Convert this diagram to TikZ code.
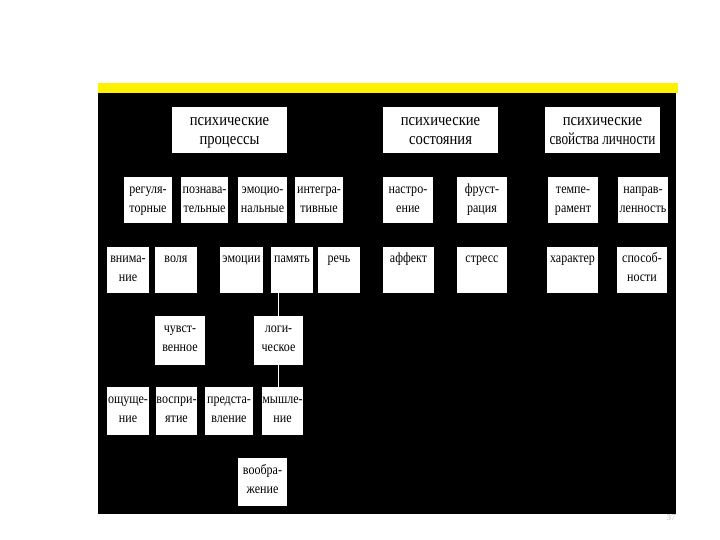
\documentclass[tikz,border=0pt]{standalone}
\usepackage{fontspec}
\setmainfont{Liberation Serif}
\newfontfamily\condfont[FakeStretch=0.86]{Liberation Serif}
\newfontfamily\tightfont[FakeStretch=0.78]{Liberation Serif}
\usetikzlibrary{fit}
\tikzset{
  panel/.style={fill=white, draw=none, inner sep=0pt},
  lab/.style={anchor=north, inner sep=0pt, align=center, text=black,
              font=\condfont\fontsize{14}{19.5}\selectfont},
  toplab/.style={anchor=north, inner sep=0pt, align=center, text=black,
              font=\condfont\fontsize{17}{19}\selectfont},
  link/.style={draw=white, line width=1.2pt}
}
\newcommand\bx[7]{%
  \node[panel, fit={(#2,#3) (#4,#5)}] (#1) {};
  \node[lab, yshift=-#6pt] (#1t) at (#1.north) {\rule{0pt}{10pt}#7};
}
\newcommand\topbx[6]{%
  \node[panel, fit={(#2,#3) (#4,#5)}] (#1) {};
  \node[toplab, yshift=-9pt] (#1t) at (#1.north) {\rule{0pt}{10pt}#6};
}
\begin{document}
\begin{tikzpicture}[x=1pt,y=-1pt]
\useasboundingbox[fill=white] (0,0) rectangle (720,540);
% frame
\fill[yellow] (98,83) rectangle (678,93);
\fill[black] (98,93) rectangle (676,514);
% top level
\topbx{proc}{172}{107}{287}{153}{психические\\процессы}
\topbx{sost}{383}{107}{498}{153}{психические\\состояния}
\topbx{svoi}{545}{107}{660}{153}{психические\\{\tightfont свойства личности}}
% row 2
\bx{reg}{124}{177}{172}{223}{6}{регуля-\\торные}
\bx{poz}{181}{177}{228}{223}{6}{познава-\\тельные}
\bx{emo}{238}{177}{287}{223}{6}{эмоцио-\\нальные}
\bx{integ}{295}{177}{343}{223}{6}{интегра-\\тивные}
\bx{nastr}{383}{177}{433}{223}{6}{настро-\\ение}
\bx{frust}{457}{177}{507}{223}{6}{фруст-\\рация}
\bx{temp}{548}{177}{598}{223}{6}{темпе-\\рамент}
\bx{napr}{618}{177}{668}{223}{6}{направ-\\ленность}
% row 3
\bx{vnim}{107}{247}{149}{293}{5}{внима-\\ние}
\bx{vol}{155}{247}{197}{293}{5}{воля}
\bx{emoc}{220}{247}{263}{293}{5}{эмоции}
\bx{pam}{271}{247}{313}{293}{5}{память}
\bx{rech}{318}{247}{360}{293}{5}{речь}
\bx{aff}{383}{247}{434}{293}{5}{аффект}
\bx{stress}{457}{247}{507}{293}{5}{стресс}
\bx{har}{547}{247}{598}{293}{5}{характер}
\bx{sposob}{617}{247}{667}{293}{5}{способ-\\ности}
% row 4
\bx{chuv}{155}{316}{205}{365}{6}{чувст-\\венное}
\bx{logi}{254}{316}{303}{365}{6}{логи-\\ческое}
% row 5
\bx{osch}{107}{387}{149}{435}{6}{ощуще-\\ние}
\bx{vosp}{156}{387}{197}{435}{6}{воспри-\\ятие}
\bx{pred}{205}{387}{253}{435}{6}{предста-\\вление}
\bx{mysh}{262}{387}{303}{435}{6}{мышле-\\ние}
% row 6
\bx{voobr}{238}{458}{287}{506}{6}{вообра-\\жение}
% connectors
\draw[link] (logi.north) -- (logi.north |- pam.south);
\draw[link] (logi.south) -- (logi.south |- mysh.north);
% page number
\node[text=black!25, font=\fontsize{9}{10}\selectfont] (pnum) at (671,518) {37};
\end{tikzpicture}
\end{document}
